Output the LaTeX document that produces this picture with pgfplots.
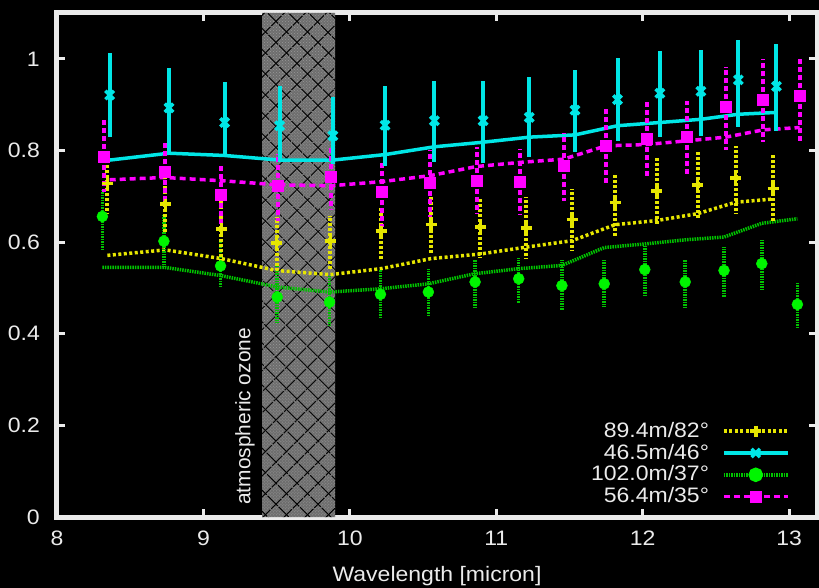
\documentclass[border=0pt]{standalone}
\usepackage{fontspec}
\setmainfont{Liberation Sans}[FakeStretch=1.1]
\newfontfamily\rotfont{Liberation Sans}
\usepackage{pgfplots}
\usepackage{pgfplotstable}
\pgfplotsset{compat=1.18}
\usetikzlibrary{patterns,patterns.meta}

\definecolor{cy}{RGB}{0,230,230}
\definecolor{ye}{RGB}{230,230,0}
\definecolor{grl}{RGB}{0,195,0}
\definecolor{grm}{RGB}{0,245,0}
\definecolor{ma}{RGB}{255,0,255}
\definecolor{bandgray}{RGB}{110,110,110}
\definecolor{txt}{RGB}{235,235,235}

% points: x y lo hi
\pgfplotstableread{
x y lo hi
8.344 0.728 0.662 0.790
8.740 0.683 0.620 0.745
9.122 0.629 0.555 0.700
9.499 0.598 0.538 0.654
9.866 0.602 0.538 0.658
10.213 0.624 0.560 0.676
10.555 0.638 0.574 0.702
10.891 0.633 0.567 0.698
11.203 0.631 0.564 0.698
11.517 0.649 0.582 0.716
11.812 0.686 0.614 0.749
12.096 0.712 0.640 0.784
12.374 0.725 0.651 0.796
12.635 0.740 0.662 0.810
12.890 0.717 0.647 0.789
}\yepts
\pgfplotstableread{
x y
8.344 0.571
8.740 0.583
9.122 0.564
9.499 0.538
9.866 0.529
10.213 0.542
10.555 0.564
10.891 0.574
11.203 0.589
11.517 0.603
11.812 0.638
12.096 0.647
12.374 0.662
12.635 0.687
12.890 0.694
}\yeline

\pgfplotstableread{
x y lo hi
8.360 0.921 0.829 1.012
8.765 0.893 0.796 0.981
9.145 0.861 0.785 0.950
9.520 0.854 0.775 0.941
9.884 0.832 0.770 0.916
10.240 0.855 0.765 0.941
10.577 0.865 0.774 0.952
10.910 0.865 0.772 0.951
11.225 0.872 0.785 0.961
11.537 0.888 0.797 0.976
11.828 0.911 0.820 1.002
12.117 0.925 0.830 1.017
12.397 0.929 0.832 1.020
12.653 0.954 0.852 1.040
12.913 0.940 0.843 1.032
}\cypts
\pgfplotstableread{
x y
8.360 0.779
8.765 0.794
9.145 0.789
9.520 0.779
9.884 0.779
10.240 0.791
10.577 0.808
10.910 0.818
11.225 0.829
11.537 0.834
11.828 0.854
12.117 0.861
12.397 0.868
12.653 0.879
12.913 0.883
}\cyline

\pgfplotstableread{
x y lo hi
8.310 0.656 0.585 0.716
8.730 0.602 0.545 0.660
9.117 0.548 0.500 0.600
9.504 0.480 0.425 0.551
9.861 0.469 0.415 0.525
10.209 0.486 0.433 0.540
10.536 0.491 0.440 0.542
10.855 0.513 0.458 0.560
11.153 0.520 0.466 0.566
11.448 0.505 0.451 0.560
11.737 0.509 0.458 0.560
12.014 0.540 0.484 0.593
12.290 0.513 0.458 0.561
12.555 0.538 0.480 0.589
12.813 0.553 0.495 0.605
13.056 0.464 0.411 0.513
}\grpts
\pgfplotstableread{
x y
8.310 0.545
8.730 0.545
9.117 0.527
9.504 0.502
9.861 0.491
10.209 0.498
10.536 0.509
10.855 0.531
11.153 0.542
11.448 0.549
11.737 0.588
12.014 0.596
12.290 0.605
12.555 0.611
12.813 0.641
13.056 0.651
}\grline

\pgfplotstableread{
x y lo hi
8.322 0.786 0.709 0.869
8.735 0.752 0.683 0.821
9.122 0.703 0.629 0.771
9.509 0.722 0.647 0.792
9.873 0.741 0.669 0.810
10.220 0.709 0.632 0.778
10.548 0.728 0.654 0.800
10.866 0.734 0.662 0.807
11.164 0.732 0.662 0.803
11.460 0.765 0.690 0.839
11.748 0.809 0.727 0.890
12.026 0.825 0.738 0.905
12.300 0.830 0.745 0.908
12.567 0.894 0.802 0.983
12.824 0.911 0.818 0.999
13.072 0.918 0.821 1.003
}\mapts
\pgfplotstableread{
x y
8.360 0.736
8.735 0.741
9.122 0.734
9.509 0.725
9.873 0.723
10.220 0.732
10.548 0.745
10.866 0.765
11.164 0.774
11.460 0.781
11.748 0.810
12.026 0.813
12.300 0.821
12.567 0.829
12.824 0.845
13.072 0.850
}\maline

\pgfplotsset{
  yest/.style={ye, line width=3.5bp, dash pattern=on 3bp off 2.5bp},
  cyst/.style={cy, line width=3.5bp},
  grst/.style={grl, line width=3.5bp, dash pattern=on 1.5bp off 1bp},
  mast/.style={ma, line width=3.5bp, dash pattern=on 6bp off 4bp},
  yemk/.style={mark=+, mark size=5.5bp, mark options={solid, ye, line width=3.5bp}},
  cymk/.style={mark=x, mark size=6bp, mark options={solid, cy, line width=3.5bp}},
  grmk/.style={mark=*, mark size=5.5bp, mark options={solid, grm, draw=grm, fill=grm}},
  mamk/.style={mark=square*, mark size=5.5bp, mark options={solid, ma, fill=ma, line width=1bp}},
  ebars/.style={error bars/.cd, y dir=both, y explicit, error mark=none, error bar style={#1}},
}

\begin{document}
\fontsize{21}{24}\selectfont
\begin{tikzpicture}
\path[use as bounding box, fill=black] (-57bp,-71bp) rectangle (762bp,517bp);
\begin{axis}[
  scale only axis, width=760bp, height=504bp,
  xmin=8, xmax=13.19, ymin=0, ymax=1.1,
  xtick={8,9,10,11,12,13}, ytick={0,0.2,0.4,0.6,0.8,1},
  axis line style={txt, line width=5bp},
  tick align=inside, major tick length=8bp,
  major tick style={txt, line width=3bp},
  /pgf/number format/assume math mode=true,
  tick label style={txt, font=\fontsize{21}{24}\selectfont},
  yticklabel style={inner sep=0pt, xshift=-17bp},
  xticklabel style={inner sep=0pt, yshift=-14bp},
  xlabel={Wavelength [micron]},
  xlabel style={txt, font=\fontsize{21}{24}\selectfont, at={(axis description cs:0.5,0)}, anchor=north, inner sep=0pt, yshift=-49bp},
  legend plot pos=right,
  legend cell align=right,
  legend image code/.code={\draw[mark repeat=2, mark phase=2] plot coordinates {(0bp,0bp)(32bp,0bp)(64bp,0bp)};},
  legend style={draw=none, fill=none, text=txt, font=\fontsize{21}{24}\selectfont,
    at={(0.968,0.016)}, anchor=south east, row sep=1.5bp, column sep=12bp,
    nodes={inner sep=1bp}},
]
% ozone band
\addplot[draw=none, fill=bandgray, forget plot] coordinates {(9.4,0)(9.4,1.1)(9.9,1.1)(9.9,0)} \closedcycle;
\addplot[draw=none, pattern=crosshatch dots, pattern color=gray!80, forget plot] coordinates {(9.4,0)(9.4,1.1)(9.9,1.1)(9.9,0)} \closedcycle;
\addplot[draw=none, pattern={Lines[angle=45,distance=15bp,line width=1.4bp]}, pattern color=black, forget plot] coordinates {(9.4,0)(9.4,1.1)(9.9,1.1)(9.9,0)} \closedcycle;
\addplot[draw=none, pattern={Lines[angle=-45,distance=15bp,line width=1.4bp]}, pattern color=black, forget plot] coordinates {(9.4,0)(9.4,1.1)(9.9,1.1)(9.9,0)} \closedcycle;

% model lines
\addplot[grst, no marks, forget plot] table[x=x,y=y] {\grline};
\addplot[yest, no marks, forget plot] table[x=x,y=y] {\yeline};
\addplot[mast, no marks, forget plot] table[x=x,y=y] {\maline};
\addplot[cyst, no marks, forget plot] table[x=x,y=y] {\cyline};

% measured points
\addplot[only marks, grmk, forget plot, ebars={grl, line width=3.5bp, dash pattern=on 1.5bp off 1bp}]
  table[x=x, y=y, y error plus expr=\thisrow{hi}-\thisrow{y}, y error minus expr=\thisrow{y}-\thisrow{lo}] {\grpts};
\addplot[only marks, yemk, forget plot, ebars={ye, line width=4bp, dash pattern=on 3bp off 2bp}]
  table[x=x, y=y, y error plus expr=\thisrow{hi}-\thisrow{y}, y error minus expr=\thisrow{y}-\thisrow{lo}] {\yepts};
\addplot[only marks, mamk, forget plot, ebars={ma, line width=4bp, dash pattern=on 5bp off 3bp}]
  table[x=x, y=y, y error plus expr=\thisrow{hi}-\thisrow{y}, y error minus expr=\thisrow{y}-\thisrow{lo}] {\mapts};
\addplot[only marks, cymk, forget plot, ebars={cy, line width=4bp}]
  table[x=x, y=y, y error plus expr=\thisrow{hi}-\thisrow{y}, y error minus expr=\thisrow{y}-\thisrow{lo}] {\cypts};

\node[rotate=90, anchor=south west, inner sep=0pt, txt, font=\rotfont\fontsize{21}{24}\selectfont] at ([xshift=-7bp,yshift=12bp]axis cs:9.4,0) {atmospheric ozone};

\addlegendimage{yest, yemk}
\addlegendentry{89.4m/82°}
\addlegendimage{cyst, cymk}
\addlegendentry{46.5m/46°}
\addlegendimage{grst, grmk}
\addlegendentry{102.0m/37°}
\addlegendimage{mast, mamk}
\addlegendentry{56.4m/35°}
\end{axis}
\end{tikzpicture}
\end{document}
